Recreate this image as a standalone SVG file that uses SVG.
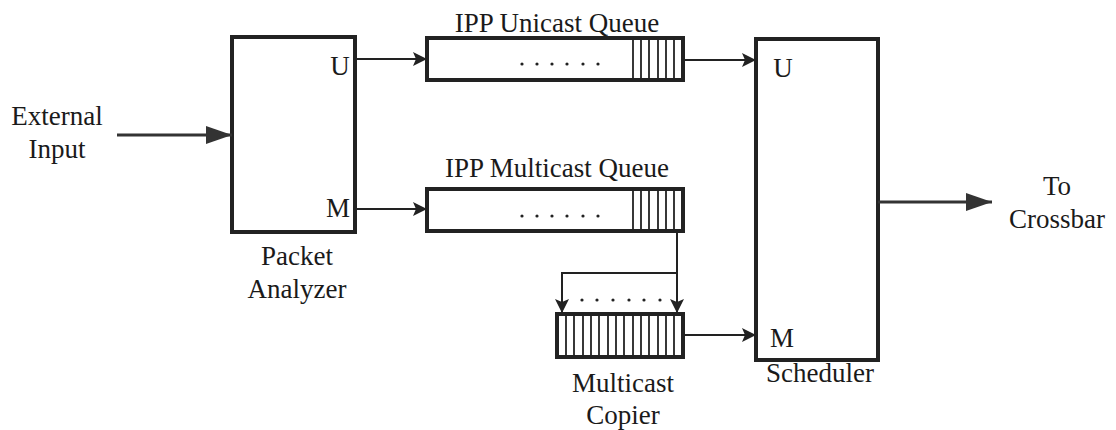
<svg xmlns="http://www.w3.org/2000/svg" width="1116" height="430" viewBox="0 0 1116 430">
<defs>
<style>
.box{fill:#fff;stroke:#222;stroke-width:4}
.hatch{stroke:#222;stroke-width:1.8}
.wire{fill:none;stroke:#222;stroke-width:2}
.thick{fill:none;stroke:#333;stroke-width:3}
.dot{fill:#222}
text{font-family:"Liberation Serif","Times New Roman",serif;font-size:27px;fill:#1a1a1a}
.c{text-anchor:middle}
</style>
<marker id="sa" markerUnits="userSpaceOnUse" markerWidth="14" markerHeight="14" viewBox="0 0 14 14" refX="14" refY="7" orient="auto"><path d="M0,0 L14,7 L0,14 L3,7 Z" fill="#222"/></marker>
<marker id="la" markerUnits="userSpaceOnUse" markerWidth="26" markerHeight="18" viewBox="0 0 26 18" refX="26" refY="9" orient="auto"><path d="M0,0 L26,9 L0,18 Z" fill="#333"/></marker>
</defs>
<rect width="1116" height="430" fill="#fff"/>

<g id="external-input">
<text class="c" x="57" y="125">External</text>
<text class="c" x="57" y="158">Input</text>
</g>

<g id="packet-analyzer">
<rect class="box" x="232" y="37" width="123" height="195"/>
<text class="c" x="340" y="75">U</text>
<text class="c" x="338" y="217">M</text>
<text class="c" x="297" y="265">Packet</text>
<text class="c" x="297" y="298">Analyzer</text>
</g>

<g id="unicast-queue">
<text class="c" x="557" y="32">IPP Unicast Queue</text>
<rect class="box" x="427" y="38" width="256" height="42"/>
<g class="hatch"><line x1="633" y1="38" x2="633" y2="80"/><line x1="641" y1="38" x2="641" y2="80"/><line x1="649" y1="38" x2="649" y2="80"/><line x1="658" y1="38" x2="658" y2="80"/><line x1="666" y1="38" x2="666" y2="80"/><line x1="674" y1="38" x2="674" y2="80"/></g>
<g class="dot"><circle cx="522" cy="64" r="1.6"/><circle cx="537" cy="64" r="1.6"/><circle cx="552" cy="64" r="1.6"/><circle cx="567" cy="64" r="1.6"/><circle cx="583" cy="64" r="1.6"/><circle cx="598" cy="64" r="1.6"/></g>
</g>

<g id="multicast-queue">
<text class="c" x="557" y="177">IPP Multicast Queue</text>
<rect class="box" x="427" y="189" width="256" height="42"/>
<g class="hatch"><line x1="633" y1="189" x2="633" y2="231"/><line x1="641" y1="189" x2="641" y2="231"/><line x1="649" y1="189" x2="649" y2="231"/><line x1="658" y1="189" x2="658" y2="231"/><line x1="666" y1="189" x2="666" y2="231"/><line x1="674" y1="189" x2="674" y2="231"/></g>
<g class="dot"><circle cx="522" cy="216" r="1.6"/><circle cx="537" cy="216" r="1.6"/><circle cx="552" cy="216" r="1.6"/><circle cx="567" cy="216" r="1.6"/><circle cx="583" cy="216" r="1.6"/><circle cx="598" cy="216" r="1.6"/></g>
</g>

<g id="multicast-copier">
<rect class="box" x="557" y="314" width="126" height="43"/>
<g class="hatch"><line x1="566" y1="314" x2="566" y2="357"/><line x1="574" y1="314" x2="574" y2="357"/><line x1="583" y1="314" x2="583" y2="357"/><line x1="591" y1="314" x2="591" y2="357"/><line x1="599" y1="314" x2="599" y2="357"/><line x1="608" y1="314" x2="608" y2="357"/><line x1="616" y1="314" x2="616" y2="357"/><line x1="624" y1="314" x2="624" y2="357"/><line x1="633" y1="314" x2="633" y2="357"/><line x1="641" y1="314" x2="641" y2="357"/><line x1="649" y1="314" x2="649" y2="357"/><line x1="658" y1="314" x2="658" y2="357"/><line x1="666" y1="314" x2="666" y2="357"/><line x1="674" y1="314" x2="674" y2="357"/></g>
<text class="c" x="623" y="392">Multicast</text>
<text class="c" x="623" y="424">Copier</text>
</g>

<g id="scheduler">
<rect class="box" x="756" y="39" width="122" height="321"/>
<text class="c" x="783" y="77">U</text>
<text class="c" x="782" y="347">M</text>
<text class="c" x="820" y="382">Scheduler</text>
</g>

<g id="to-crossbar">
<text class="c" x="1057" y="195">To</text>
<text class="c" x="1057" y="228">Crossbar</text>
</g>

<g id="connectors">
<line class="thick" x1="117" y1="135" x2="232" y2="135" marker-end="url(#la)"/>
<line class="wire" x1="355" y1="59" x2="427" y2="59" marker-end="url(#sa)"/>
<line class="wire" x1="355" y1="209" x2="427" y2="209" marker-end="url(#sa)"/>
<line class="wire" x1="683" y1="60" x2="756" y2="60" marker-end="url(#sa)"/>
<line class="wire" x1="677" y1="231" x2="677" y2="313" marker-end="url(#sa)"/>
<polyline class="wire" points="677,273 562,273 562,313" marker-end="url(#sa)"/>
<g class="dot"><circle cx="582" cy="300" r="1.6"/><circle cx="597" cy="300" r="1.6"/><circle cx="613" cy="300" r="1.6"/><circle cx="629" cy="300" r="1.6"/><circle cx="644" cy="300" r="1.6"/><circle cx="660" cy="300" r="1.6"/></g>
<line class="wire" x1="683" y1="335" x2="756" y2="335" marker-end="url(#sa)"/>
<line class="thick" x1="878" y1="202" x2="992" y2="202" marker-end="url(#la)"/>
</g>
</svg>
